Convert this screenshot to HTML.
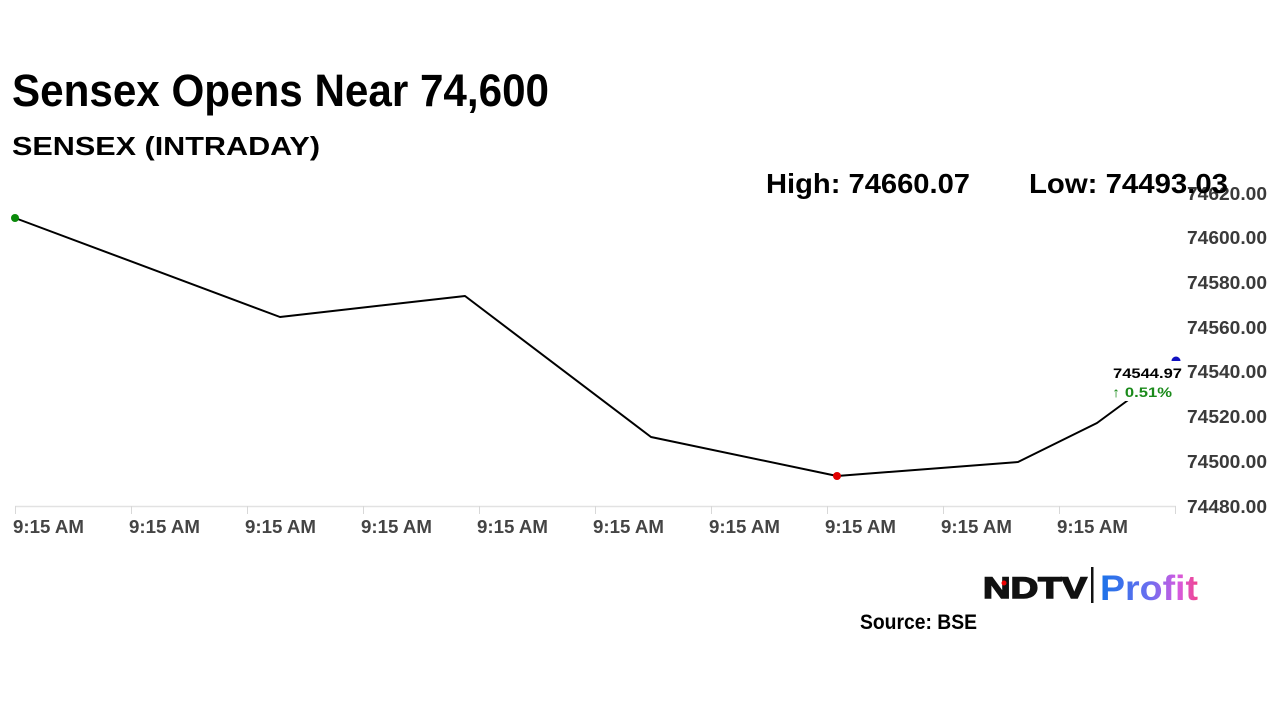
<!DOCTYPE html>
<html><head><meta charset="utf-8"><style>
html,body{margin:0;padding:0;background:#fff;width:1280px;height:720px;overflow:hidden}
svg{display:block}
text{font-family:"Liberation Sans",Arial,sans-serif}
</style></head><body>
<svg width="1280" height="720" viewBox="0 0 1280 720" xmlns="http://www.w3.org/2000/svg">
<defs>
<linearGradient id="pg" x1="0" x2="1" y1="0" y2="0">
<stop offset="0" stop-color="#1a73e8"/><stop offset="0.5" stop-color="#6a6ff0"/><stop offset="0.8" stop-color="#d65ae0"/><stop offset="1" stop-color="#f0448a"/>
</linearGradient>
</defs>
<rect width="1280" height="720" fill="#fff"/>
<text x="12" y="106" font-size="45" font-weight="bold" fill="#000" textLength="537" lengthAdjust="spacingAndGlyphs">Sensex Opens Near 74,600</text>
<text x="12" y="155" font-size="26" font-weight="bold" fill="#000" textLength="308" lengthAdjust="spacingAndGlyphs">SENSEX (INTRADAY)</text>

<!-- axis -->
<line x1="15" y1="506.5" x2="1176" y2="506.5" stroke="#e2e2e2" stroke-width="1.5"/>
<g stroke="#d8d8d8" stroke-width="1">
<line x1="15.5" y1="506" x2="15.5" y2="514"/>
<line x1="131.5" y1="506" x2="131.5" y2="514"/>
<line x1="247.5" y1="506" x2="247.5" y2="514"/>
<line x1="363.5" y1="506" x2="363.5" y2="514"/>
<line x1="479.5" y1="506" x2="479.5" y2="514"/>
<line x1="595.5" y1="506" x2="595.5" y2="514"/>
<line x1="711.5" y1="506" x2="711.5" y2="514"/>
<line x1="827.5" y1="506" x2="827.5" y2="514"/>
<line x1="943.5" y1="506" x2="943.5" y2="514"/>
<line x1="1059.5" y1="506" x2="1059.5" y2="514"/>
<line x1="1175.5" y1="506" x2="1175.5" y2="514"/>
</g>
<g font-size="18" font-weight="bold" fill="#444">
<text x="13" y="533" textLength="71" lengthAdjust="spacingAndGlyphs">9:15 AM</text>
<text x="129" y="533" textLength="71" lengthAdjust="spacingAndGlyphs">9:15 AM</text>
<text x="245" y="533" textLength="71" lengthAdjust="spacingAndGlyphs">9:15 AM</text>
<text x="361" y="533" textLength="71" lengthAdjust="spacingAndGlyphs">9:15 AM</text>
<text x="477" y="533" textLength="71" lengthAdjust="spacingAndGlyphs">9:15 AM</text>
<text x="593" y="533" textLength="71" lengthAdjust="spacingAndGlyphs">9:15 AM</text>
<text x="709" y="533" textLength="71" lengthAdjust="spacingAndGlyphs">9:15 AM</text>
<text x="825" y="533" textLength="71" lengthAdjust="spacingAndGlyphs">9:15 AM</text>
<text x="941" y="533" textLength="71" lengthAdjust="spacingAndGlyphs">9:15 AM</text>
<text x="1057" y="533" textLength="71" lengthAdjust="spacingAndGlyphs">9:15 AM</text>
</g>
<g font-size="18.5" font-weight="bold" fill="#3a3a3a">
<text x="1187" y="200" textLength="80" lengthAdjust="spacingAndGlyphs">74620.00</text>
<text x="1187" y="244" textLength="80" lengthAdjust="spacingAndGlyphs">74600.00</text>
<text x="1187" y="289" textLength="80" lengthAdjust="spacingAndGlyphs">74580.00</text>
<text x="1187" y="334" textLength="80" lengthAdjust="spacingAndGlyphs">74560.00</text>
<text x="1187" y="378" textLength="80" lengthAdjust="spacingAndGlyphs">74540.00</text>
<text x="1187" y="423" textLength="80" lengthAdjust="spacingAndGlyphs">74520.00</text>
<text x="1187" y="468" textLength="80" lengthAdjust="spacingAndGlyphs">74500.00</text>
<text x="1187" y="513" textLength="80" lengthAdjust="spacingAndGlyphs">74480.00</text>
</g>

<!-- series -->
<polyline points="15,218 280,317 465,296 651,437 837,476 1018,462 1097,423 1135,395" fill="none" stroke="#000" stroke-width="2" stroke-linejoin="round"/>
<circle cx="15" cy="218" r="4" fill="#0a8a0a"/>
<circle cx="837" cy="476" r="4" fill="#e00000"/>
<circle cx="1176" cy="361" r="4.5" fill="#1010c0"/>
<rect x="1110" y="361" width="74" height="40" fill="#fff"/>
<text x="1113" y="378" font-size="14" font-weight="bold" fill="#000" textLength="69" lengthAdjust="spacingAndGlyphs">74544.97</text>
<text x="1112" y="397" font-size="14" font-weight="bold" fill="#1a8a1a" textLength="60" lengthAdjust="spacingAndGlyphs">↑ 0.51%</text>

<!-- high/low -->
<text x="766" y="193" font-size="28" font-weight="bold" fill="#000" textLength="204" lengthAdjust="spacingAndGlyphs">High: 74660.07</text>
<text x="1029" y="193" font-size="28" font-weight="bold" fill="#000" textLength="199" lengthAdjust="spacingAndGlyphs">Low: 74493.03</text>

<!-- logo -->
<text x="983" y="598" font-size="30" font-weight="900" fill="#111" textLength="104" lengthAdjust="spacingAndGlyphs" stroke="#111" stroke-width="1.5">NDTV</text>
<circle cx="1004" cy="583" r="2.5" fill="#e00"/>
<rect x="1091" y="567" width="2.5" height="36" fill="#111"/>
<text x="1100" y="600" font-size="35" font-weight="bold" fill="url(#pg)" textLength="98" lengthAdjust="spacingAndGlyphs">Profit</text>

<text x="860" y="629" font-size="21" font-weight="bold" fill="#000" textLength="117" lengthAdjust="spacingAndGlyphs">Source: BSE</text>
</svg>
</body></html>
